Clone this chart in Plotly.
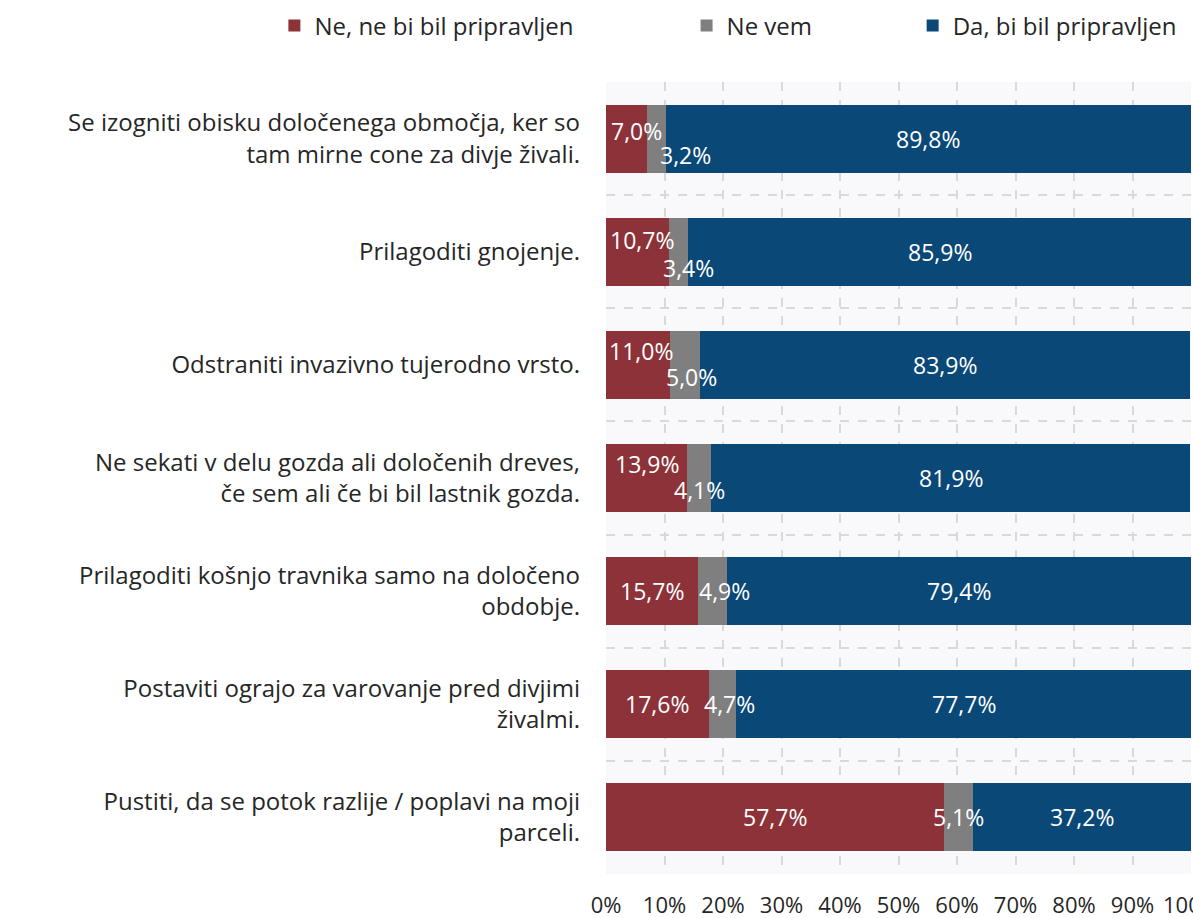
import plotly.graph_objects as go

categories = [
    "Se izogniti obisku določenega območja, ker so<br>tam mirne cone za divje živali.",
    "Prilagoditi gnojenje.",
    "Odstraniti invazivno tujerodno vrsto.",
    "Ne sekati v delu gozda ali določenih dreves,<br>če sem ali če bi bil lastnik gozda.",
    "Prilagoditi košnjo travnika samo na določeno<br>obdobje.",
    "Postaviti ograjo za varovanje pred divjimi<br>živalmi.",
    "Pustiti, da se potok razlije / poplavi na moji<br>parceli.",
]
ne = [7.0, 10.7, 11.0, 13.9, 15.7, 17.6, 57.7]
nevem = [3.2, 3.4, 5.0, 4.1, 4.9, 4.7, 5.1]
da = [89.8, 85.9, 83.9, 81.9, 79.4, 77.7, 37.2]

series_names = ["Ne, ne bi bil pripravljen", "Ne vem", "Da, bi bil pripravljen"]
colors = ["#8C3238", "#7F7F7F", "#0A4878"]

FONT = "Open Sans"
TXT = "#262626"

fig = go.Figure()
legends = ["legend", "legend2", "legend3"]
for name, vals, col, lg in zip(series_names, [ne, nevem, da], colors, legends):
    fig.add_trace(go.Bar(
        y=categories, x=vals, name=name, orientation="h",
        marker=dict(color=col, line=dict(width=0)),
        legend=lg, showlegend=True,
    ))

def fmt(v):
    return f"{v:.1f}%".replace(".", ",")

# label offsets (pixels) for crowded labels
red_shift = [(10, 8), (5, 12), (3, 14), (0, 14), (0, 0), (0, 0), (0, 0)]
gray_shift = [(29, -16), (10, -16), (7, -12), (0, -12), (12, 0), (7, 0), (0, 0)]

annotations = []
for i, cat in enumerate(categories):
    starts = [0, ne[i], ne[i] + nevem[i]]
    vals = [ne[i], nevem[i], da[i]]
    shifts = [red_shift[i], gray_shift[i], (0, 0)]
    for s, v, sh in zip(starts, vals, shifts):
        annotations.append(dict(
            x=s + v / 2, y=cat, xref="x", yref="y", text=fmt(v),
            showarrow=False, font=dict(family=FONT, size=23, color="white"),
            xshift=sh[0], yshift=sh[1],
        ))

W, H = 1193, 918
leg_common = dict(orientation="h", xref="container", yref="container",
                  xanchor="left", yanchor="middle", y=0.9717,
                  font=dict(family=FONT, size=24, color=TXT), bgcolor="rgba(0,0,0,0)")

fig.update_layout(
    width=W, height=H,
    showlegend=True,
    barmode="stack", bargap=0.4,
    paper_bgcolor="white", plot_bgcolor="#F9F9FC",
    margin=dict(l=606, r=2, t=82, b=44),
    font=dict(family=FONT, size=24, color=TXT),
    annotations=annotations,
    legend=dict(x=0.2300, **leg_common),
    legend2=dict(x=0.5755, **leg_common),
    legend3=dict(x=0.7650, **leg_common),
    xaxis=dict(range=[0, 100], dtick=10, ticksuffix="%", showgrid=True,
               gridcolor="#D9D9D9", griddash="dash", gridwidth=1.5,
               zeroline=False, showline=False, ticklabelstandoff=16,
               ticklabeloverflow="allow",
               tickfont=dict(family=FONT, size=22, color=TXT), automargin=False, fixedrange=True),
    yaxis=dict(autorange="reversed", tickson="boundaries", showgrid=True,
               gridcolor="#D9D9D9", griddash="dash", gridwidth=1.5,
               ticks="", ticklabelstandoff=25, tickfont=dict(family=FONT, size=24, color=TXT),
               automargin=False, showline=False),
)

fig.write_html(
    "out.html",
    config={"displayModeBar": False},
    post_script="document.body.style.margin='0';document.body.style.overflow='hidden';",
)
